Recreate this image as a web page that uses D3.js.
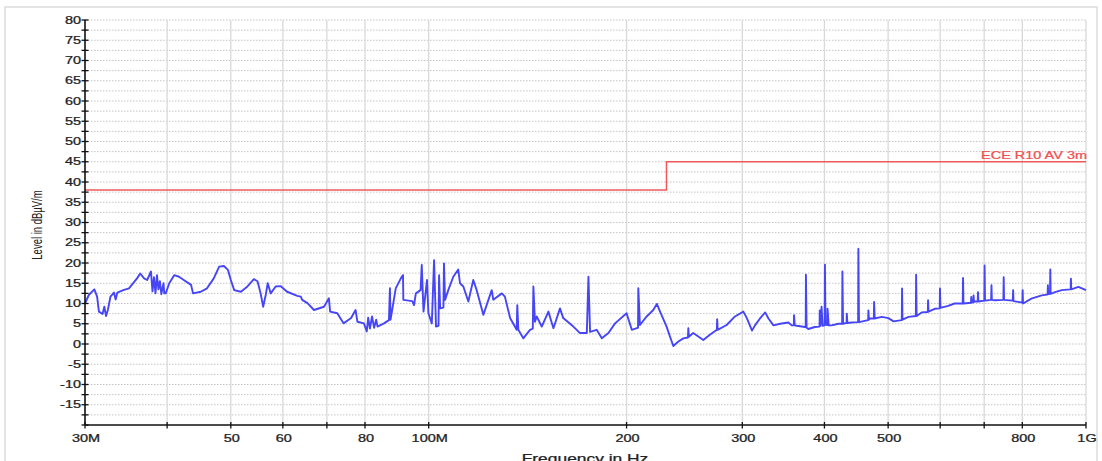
<!DOCTYPE html>
<html><head><meta charset="utf-8">
<script src="https://cdn.jsdelivr.net/npm/d3@7"></script>
<style>html,body{margin:0;padding:0;background:#fff;} svg{display:block;}</style>
</head><body><svg id="c" width="1102" height="461"></svg>
<script>
// ---- data (MHz / dBµV/m) ----
const traceFreqMHz = [
30.0,30.4,31.0,31.3,31.5,31.9,32.1,32.3,32.5,32.8,
33.2,33.4,33.6,34.3,35.0,36.0,36.4,36.9,37.3,37.8,
38.0,38.2,38.4,38.6,38.8,39.0,39.2,39.5,39.6,39.8,
40.3,41.0,41.7,42.4,43.5,43.8,45.0,46.0,47.1,48.0,
48.8,49.5,50.0,50.6,51.8,53.0,54.2,54.9,55.5,56.0,
56.5,56.9,57.5,58.5,59.5,60.9,63.1,63.9,64.2,65.4,
66.9,69.3,70.5,70.8,72.6,74.2,76.2,77.4,77.9,79.7,
80.5,80.9,81.4,82.0,82.6,83.2,83.6,85.5,87.0,87.3,
87.5,89.1,90.7,91.4,91.5,94.4,95.0,95.6,97.2,97.6,
98.2,99.4,99.9,101.1,101.9,102.6,103.5,103.7,104.1,105.3,
105.5,105.9,107.1,109.0,110.9,111.6,112.9,114.9,116.9,118.3,
121.1,124.7,125.4,129.2,130.6,133.0,136.1,136.4,136.9,139.3,
142.6,144.0,144.3,145.1,146.0,148.6,152.1,154.8,158.4,160.2,
166.0,169.9,174.0,175.0,176.0,180.1,183.4,187.7,192.1,200.0,
203.7,207.3,208.2,208.4,209.6,214.6,219.6,222.4,224.9,230.1,
232.9,235.6,239.8,244.0,248.0,248.3,248.8,252.6,261.7,267.8,
274.4,274.7,275.2,284.0,292.4,301.1,304.8,310.4,313.6,319.2,
325.0,328.8,334.6,342.5,352.5,356.7,359.3,359.6,360.5,363.0,
373.6,374.6,374.9,375.8,378.0,386.8,393.2,393.5,394.5,396.0,
397.5,400.3,400.7,401.5,404.1,404.4,406.0,410.2,420.0,425.6,
426.0,427.0,432.3,432.6,433.5,440.0,450.1,450.5,451.5,466.2,
466.6,467.5,469.4,475.6,476.0,477.0,488.9,500.4,509.6,524.5,
525.0,525.8,537.1,551.0,551.5,552.5,562.2,574.6,575.1,576.0,
588.7,599.0,599.6,600.5,617.0,631.0,649.3,650.0,651.0,668.3,
669.0,670.0,673.8,674.4,675.5,678.6,684.3,685.0,686.0,700.3,
701.0,702.0,717.3,718.1,719.0,726.4,748.7,749.5,750.5,773.8,
774.7,775.7,788.0,800.2,801.0,802.0,825.8,856.3,871.7,874.2,
875.0,876.0,881.6,882.5,883.5,897.2,918.5,945.3,947.8,948.6,
949.6,973.8,1000.0
];
const traceLevel = [
10.0,12.1,13.5,11.7,8.0,7.4,9.2,6.9,8.4,11.7,
12.7,11.0,12.7,13.3,13.75,16.2,17.4,16.2,15.8,17.9,
13.0,16.5,12.5,17.0,13.5,15.5,12.3,15.0,12.5,12.5,
15.0,17.0,16.6,15.8,14.6,12.5,12.9,13.75,16.2,19.1,
19.25,18.3,15.8,13.3,12.9,14.2,16.0,15.5,12.5,9.2,
12.1,15.0,12.5,14.2,14.3,12.9,11.9,11.7,10.9,10.1,
8.4,9.2,11.3,8.0,7.6,5.1,6.4,8.4,5.5,5.1,
3.1,6.5,3.8,6.8,4.0,6.0,4.3,5.1,5.9,13.75,
6.0,13.75,16.2,17.0,10.9,10.6,9.6,12.5,13.3,19.5,
8.0,15.8,7.6,5.1,20.7,4.3,4.5,17.0,8.8,9.0,
19.9,10.9,13.3,16.6,18.4,15.0,14.2,10.5,15.8,13.3,
7.2,13.3,10.9,12.5,11.7,6.4,3.5,9.6,3.5,1.4,
3.5,3.8,14.2,5.5,6.8,4.3,8.0,3.9,8.8,6.4,
4.3,2.7,2.7,16.6,3.0,3.5,1.4,2.7,5.1,7.6,
3.5,3.9,4.0,13.75,4.7,6.8,8.4,9.9,8.0,4.3,
1.8,-0.5,0.6,1.4,1.6,3.9,1.8,2.7,1.0,2.3,
3.5,6.1,3.5,4.7,6.8,8.0,6.4,3.3,4.6,6.3,
7.8,6.3,4.6,5.0,5.3,4.6,4.6,7.1,4.6,4.5,
4.2,4.2,17.1,4.0,3.7,4.2,4.3,8.3,4.5,9.2,
4.5,4.6,19.6,4.8,4.7,8.7,4.6,4.6,5.0,5.0,
17.9,5.0,5.2,7.5,5.2,5.3,5.4,23.5,5.4,5.9,
8.3,6.0,6.3,6.3,10.4,6.3,6.7,6.4,5.6,5.9,
13.7,6.0,6.7,6.9,17.1,6.9,7.8,7.9,10.8,8.0,
8.7,8.8,13.7,8.9,9.4,10.0,10.0,16.3,10.0,10.2,
11.6,10.2,10.3,12.0,10.4,10.5,10.5,12.8,10.5,10.7,
19.4,10.7,10.9,14.5,10.9,10.8,10.9,16.5,10.9,10.7,
13.3,10.6,10.4,10.2,13.3,10.0,11.2,12.0,12.2,12.2,
14.5,12.3,12.4,18.4,12.4,12.8,13.3,13.5,13.5,16.1,
13.5,14.1,13.3
];
const limitFreqMHz = [30, 230, 230, 1000];
const limitLevel = [38, 38, 45, 45];
const limitName = "ECE R10 AV 3m";
const xTickValuesMHz = [30,40,50,60,70,80,100,200,300,400,500,600,700,800,1000];
const xTickLabels = ["30M","","50","60","","80","100M","200","300","400","500","","","800","1G"];
const yMajorTicks = [-20,-15,-10,-5,0,5,10,15,20,25,30,35,40,45,50,55,60,65,70,75,80];
const yTickLabels = ["","-15","-10","-5","0","5","10","15","20","25","30","35","40","45","50","55","60","65","70","75","80"];
const yMinorTicks = [-17.5,-12.5,-7.5,-2.5,2.5,7.5,12.5,17.5,22.5,27.5,32.5,37.5,42.5,47.5,52.5,57.5,62.5,67.5,72.5,77.5];
const xTitle = "Frequency in Hz";
const yTitle = "Level in dBµV/m";

// ---- drawing ----
const svg = d3.select("#c");
const L = 85, R = 1086, T = 20, B = 425;
const SX = 1.45; // horizontal stretch of the text in the original image
const FONT = "'Liberation Sans', Arial, sans-serif";
const x = d3.scaleLog().domain([30e6, 1e9]).range([L, R]);
const y = d3.scaleLinear().domain([-20, 80]).range([B, T]);

function label(g, txt, size, fill, anchor) {
  return g.append("text").attr("transform", `scale(${SX},1)`).attr("text-anchor", anchor)
    .attr("font-family", FONT).attr("font-size", size).attr("fill", fill)
    .attr("stroke", fill).attr("stroke-width", 0.25).text(txt);
}

// outer frame
svg.append("rect").attr("x", 5).attr("y", 7).attr("width", 1092).attr("height", 480)
  .attr("fill", "none").attr("stroke", "#dcdcdc").attr("stroke-width", 1.5);

// horizontal dotted grid
const hg = svg.append("g");
[...yMajorTicks, ...yMinorTicks].filter(v => v > -20).forEach(v => {
  hg.append("line").attr("x1", L).attr("x2", R).attr("y1", y(v)).attr("y2", y(v))
    .attr("stroke", "#c4c4c4").attr("stroke-width", 1).attr("stroke-dasharray", "1.5,1.5");
});
// vertical grid
const vg = svg.append("g");
xTickValuesMHz.filter(v => v > 30).forEach(v => {
  vg.append("line").attr("x1", x(v*1e6)).attr("x2", x(v*1e6)).attr("y1", T).attr("y2", B)
    .attr("stroke", "#d9d9d9").attr("stroke-width", 1.3);
});

// limit line
svg.append("path")
  .attr("d", d3.line().x((d,i) => x(limitFreqMHz[i]*1e6)).y((d,i) => y(limitLevel[i]))(limitFreqMHz))
  .attr("fill", "none").attr("stroke", "#f05a5a").attr("stroke-width", 1.5);
label(svg.append("g").attr("transform", `translate(${x(1e9)+1},159)`), limitName, 10, "#f05050", "end");

// trace
svg.append("path")
  .attr("d", d3.line().x((d,i) => x(traceFreqMHz[i]*1e6)).y((d,i) => y(traceLevel[i]))(traceFreqMHz))
  .attr("fill", "none").attr("stroke", "#4646f6").attr("stroke-width", 1.9).attr("stroke-linejoin", "round");

// axes lines
svg.append("line").attr("x1", L).attr("x2", L).attr("y1", T).attr("y2", B).attr("stroke", "#111").attr("stroke-width", 1.6);
svg.append("line").attr("x1", L).attr("x2", R).attr("y1", B).attr("y2", B).attr("stroke", "#111").attr("stroke-width", 1.6);

// y ticks
[...yMajorTicks, ...yMinorTicks].forEach(v => {
  svg.append("line").attr("x1", L-3.5).attr("x2", L+3.5).attr("y1", y(v)).attr("y2", y(v))
    .attr("stroke", "#111").attr("stroke-width", 1.3);
});
yMajorTicks.forEach((v,i) => {
  if (!yTickLabels[i]) return;
  label(svg.append("g").attr("transform", `translate(81,${y(v)+3.6})`), yTickLabels[i], 10, "#222", "end");
});
// x ticks
xTickValuesMHz.forEach((v,i) => {
  svg.append("line").attr("x1", x(v*1e6)).attr("x2", x(v*1e6)).attr("y1", B-3).attr("y2", B+3.5)
    .attr("stroke", "#111").attr("stroke-width", 1.3);
  if (!xTickLabels[i]) return;
  label(svg.append("g").attr("transform", `translate(${x(v*1e6)+1},442)`), xTickLabels[i], 10, "#222", "middle");
});

// titles
label(svg.append("g").attr("transform", `translate(585,463)`), xTitle, 12, "#222", "middle");
svg.append("g").attr("transform", `translate(42,225) scale(${SX},1) rotate(-90)`)
  .append("text").attr("text-anchor", "middle")
  .attr("font-family", FONT).attr("font-size", 9.5).attr("fill", "#222").text(yTitle);
</script></body></html>
